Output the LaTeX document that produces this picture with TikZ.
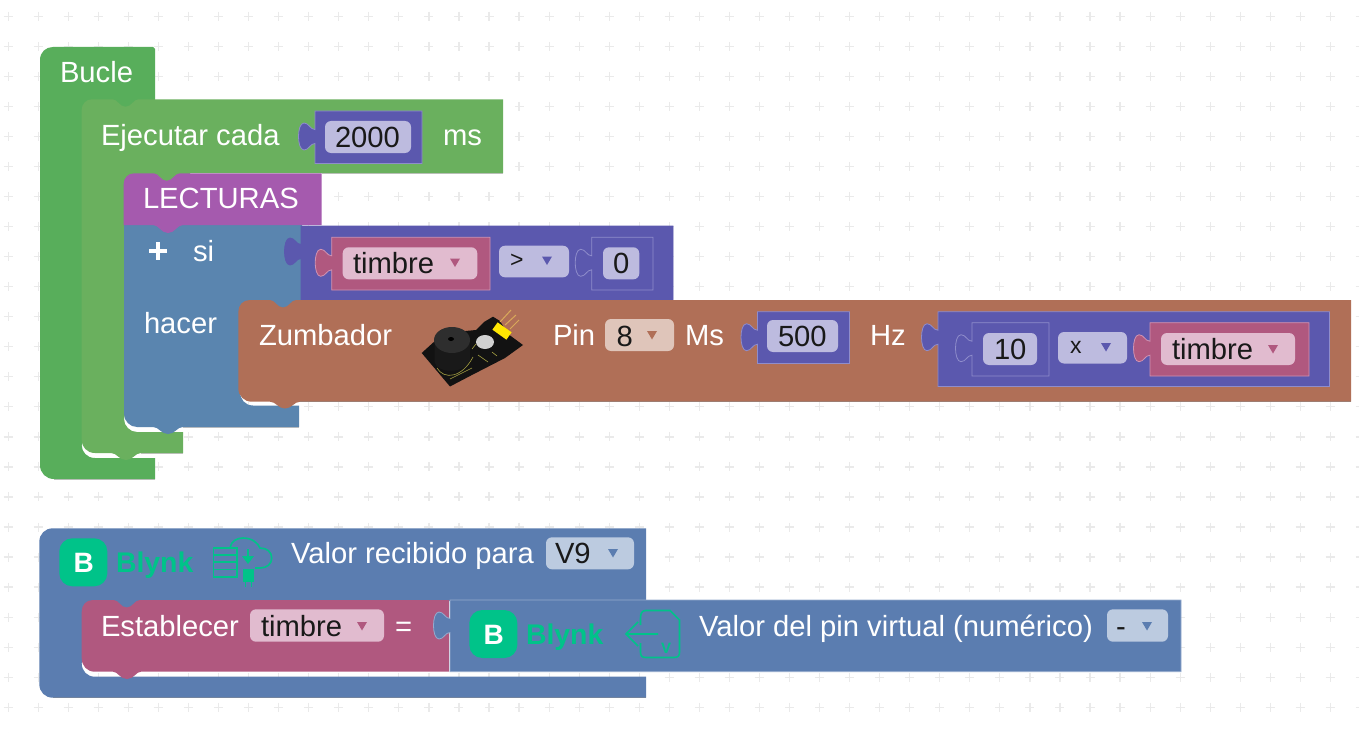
\documentclass[tikz,border=0pt]{standalone}
\usepackage{fontspec}
\setmainfont{Liberation Sans}
\definecolor{cLoop}{HTML}{58AE5B}
\definecolor{cEvery}{HTML}{6AB05E}
\definecolor{cProc}{HTML}{A55AAE}
\definecolor{cIf}{HTML}{5A85AF}
\definecolor{cVal}{HTML}{5B58AE}
\definecolor{cValE}{HTML}{8F8DCB}
\definecolor{cVar}{HTML}{B0587F}
\definecolor{cVarE}{HTML}{D193B2}
\definecolor{cBrown}{HTML}{B06F57}
\definecolor{cBly}{HTML}{5B7DB0}
\definecolor{cBlyE}{HTML}{94ABCE}
\definecolor{fVal}{HTML}{BDBBDF}
\definecolor{fVar}{HTML}{E1BBCF}
\definecolor{fBrown}{HTML}{DFC5BA}
\definecolor{fBly}{HTML}{BCCBE0}
\definecolor{cGreen}{HTML}{00C389}
\definecolor{cGrid}{HTML}{EAEAEA}
\definecolor{cPin}{HTML}{D9A95A}
\newcommand\ntop[2]{-- ({#1-13},#2) .. controls ({#1-8},#2) and ({#1-6},{#2+7.5}) .. (#1,{#2+7.5}) .. controls ({#1+6},{#2+7.5}) and ({#1+8},#2) .. ({#1+13},#2)}
\newcommand\nbot[2]{-- ({#1+15},#2) .. controls ({#1+9},#2) and ({#1+7},{#2+7}) .. (#1,{#2+7}) .. controls ({#1-7},{#2+7}) and ({#1-9},#2) .. ({#1-15},#2)}
\newcommand\ltab[2]{-- (#1,{(#2)+7}) .. controls ({#1-5},{(#2)+7}) and ({#1-6},{(#2)+13.5}) .. ({#1-11},{(#2)+13.5}) .. controls ({#1-15},{(#2)+13.5}) and ({#1-16.5},{(#2)+6}) .. ({#1-16.5},{#2}) .. controls ({#1-16.5},{(#2)-6}) and ({#1-15},{(#2)-13.5}) .. ({#1-11},{(#2)-13.5}) .. controls ({#1-6},{(#2)-13.5}) and ({#1-5},{(#2)-7}) .. (#1,{(#2)-7})}
\newcommand\valblock[6]{\path[fill=#5,draw=#6,line width=.8pt] (#1,#2) -- (#3,#2) -- (#3,#4) -- (#1,#4) \ltab{#1}{#2+25.5} -- cycle;}
\newcommand\field[5]{\fill[#5,rounded corners=6pt] (#1,#2) rectangle (#3,#4);}
\newcommand\tri[3]{\fill[#3] ({#1-5},{#2-4}) -- ({#1+5},{#2-4}) -- (#1,{#2+4.5}) -- cycle;}
\newcommand\blynklogo[2]{%
 \fill[cGreen,rounded corners=13pt] (#1,#2) rectangle ({#1+48},{#2+48});
 \node[dark,text=white,font=\fontsize{28}{30}\selectfont\bfseries,anchor=center] (logo#1) at ({#1+24.5},{#2+25}) {B};}
\tikzset{
 lbl/.style={anchor=base west,inner sep=0pt,outer sep=0pt,text=white,font=\fontsize{29.2}{32}\selectfont},
 dark/.style={inner sep=0pt,outer sep=0pt},
 ftx/.style={lbl,text=black!90},
 sym/.style={lbl,text=black!90,font=\fontsize{23}{25}\selectfont},
 bly/.style={lbl,text=cGreen,font=\fontsize{28.4}{30}\selectfont\bfseries},
 icon/.style={draw=cGreen,line width=1.6pt,fill=none},
 shade/.style={draw=black,draw opacity=.22,line width=1pt},
}
\begin{document}
\begin{tikzpicture}[x=1pt,y=-1pt]
\useasboundingbox (0,0) rectangle (1359,733);
\fill[white] (0,0) rectangle (1359,733);
% grid
\foreach \i in {0,...,45}{\foreach \j in {0,...,24}{
 \draw[cGrid,line width=1.2pt] ({8.2+30.05*\i-4.5},{16.5+30.03*\j}) -- ({8.2+30.05*\i+4.5},{16.5+30.03*\j}) ({8.2+30.05*\i},{16.5+30.03*\j-4.5}) -- ({8.2+30.05*\i},{16.5+30.03*\j+4.5});
}}
% Bucle
\fill[cLoop] (40,60) .. controls (40,52) and (46,47) .. (53,47) -- (153,47) -- (155,49) -- (155,108) -- (84,108) -- (84,440) -- (81.7,445) .. controls (81.7,452) and (87,458) .. (95,458) -- (155,458) -- (155,479) -- (54,479) .. controls (46,479) and (40,473) .. (40,465) -- cycle;
\draw[shade] (54,479) -- (155,479);
% Ejecutar
\fill[cEvery] (81.7,110) .. controls (81.7,104) and (86,99.3) .. (92,99.3) \ntop{125.5}{99.3} -- (503,99.3) -- (503,173) -- (190,173) -- (190,183) -- (126,183) -- (126,410) -- (124,419) .. controls (124,426) and (130,432) .. (137,432) -- (183,432) -- (183,453) \nbot{126}{453} -- (95,453) .. controls (87,453) and (81.7,447) .. (81.7,440) -- cycle;
\draw[shade] (141,453) -- (183,453);
\draw[shade] (322,173) -- (503,173);
% si / hacer
\fill[cIf] (124,225) -- (302,225) -- (302,309) -- (240,309) -- (240,392) .. controls (240,399) and (245,405.5) .. (253,405.5) -- (299,405.5) -- (299,427) \nbot{168}{427} -- (137,427) .. controls (130,427) and (124,421) .. (124,414) -- cycle;
\draw[shade] (183,427) -- (299,427);
% Lecturas
\fill[cProc] (123.7,184) .. controls (123.7,178) and (128,173.3) .. (134,173.3) \ntop{166.7}{173.3} -- (321.7,173.3) -- (321.7,225) -- (183,225) .. controls (177,225) and (175,233) .. (168,233) .. controls (161,233) and (159,225) .. (153,225) -- (123.7,225) -- cycle;
% condition
\valblock{301}{226}{673}{299.5}{cVal}{cVal}
\valblock{331.7}{237.3}{490}{290}{cVar}{cVarE}
\field{342.7}{247.3}{477.3}{279.3}{fVar}
\field{499}{245.7}{569}{277.3}{fVal}
\valblock{591.7}{237.3}{653}{290}{cVal}{cValE}
\field{603}{247.3}{639.3}{279.3}{fVal}
% Zumbador
\fill[cBrown] (238.3,312) .. controls (238.3,305) and (243,300) .. (250,300) \ntop{283}{300} -- (1351,300) -- (1351,401.7) -- (300,401.7) .. controls (294,401.7) and (292,408.5) .. (285,408.5) .. controls (278,408.5) and (276,401.7) .. (270,401.7) -- (252,401.7) .. controls (244,401.7) and (238.3,396) .. (238.3,388) -- cycle;
\draw[shade] (300,401.7) -- (1351,401.7);
\field{605}{319}{674}{351}{fBrown}
\valblock{757.5}{311.7}{849.5}{363.5}{cVal}{cValE}
\field{767}{320}{838}{352}{fVal}
\valblock{938}{311.7}{1329.5}{386.5}{cVal}{cValE}
\valblock{972}{322.7}{1049}{376}{cVal}{cValE}
\field{983}{333}{1037}{365}{fVal}
\field{1058}{332}{1127}{363.5}{fVal}
\valblock{1150}{322.7}{1309}{376}{cVar}{cVarE}
\field{1161}{333}{1295}{365}{fVar}
% 2000
\valblock{315}{111}{422}{163.5}{cVal}{cValE}
\field{325}{121}{411}{153}{fVal}
% buzzer image
\fill[black!93] (421.7,353) -- (436,340) -- (455,332) -- (476,330) -- (484,322) -- (493,316.7) -- (500,321) -- (508,334) -- (523,345) -- (505,358) -- (470,376) -- (450,386.5) -- cycle;
\fill[black!90] (434.5,341) -- (434.5,362) .. controls (437,374) and (466,374) .. (470,360) -- (470,341) -- cycle;
\fill[black!82] (452,340) ellipse[x radius=18,y radius=13];
\fill[black] (451,339) ellipse[x radius=3,y radius=2];
\fill[black!18] (485,342) ellipse[x radius=9,y radius=7];
\draw[yellow!60!black,line width=.6pt] (437,368) .. controls (444,380) and (462,378) .. (473,357);
\draw[yellow!60!black,line width=.6pt] (450,379) -- (472,368) (472,349) -- (476,344) (478,355) -- (488,362) (492,352) -- (497,356);
\draw[cPin,line width=1pt] (500,322) -- (511,310) (505,325) -- (516,315) (510,329) -- (519,320);
\draw[yellow!90!orange,line width=9pt] (495,326) -- (509,336);
% Blynk event
\fill[cBly] (39.3,542) .. controls (39.3,534) and (45,528.3) .. (53,528.3) -- (646,528.3) -- (646,601) -- (150,601) -- (150,608.5) -- (84,608.5) -- (84,655) -- (81.7,663) .. controls (81.7,671) and (87,676.7) .. (95,676.7) -- (646,676.7) -- (646,697.7) -- (53,697.7) .. controls (45,697.7) and (39.3,692) .. (39.3,684) -- cycle;
\draw[shade] (53,697.7) -- (646,697.7);
% Establecer
\fill[cVar] (81.7,612) .. controls (81.7,605) and (86,600) .. (93,600) \ntop{126.7}{600} -- (449,600) -- (449,671.7) -- (141,671.7) .. controls (136,671.7) and (134,679) .. (127,679) .. controls (120,679) and (118,671.7) .. (113,671.7) -- (95,671.7) .. controls (87,671.7) and (81.7,666) .. (81.7,658) -- cycle;
\field{250}{609.3}{384}{641.7}{fVar}
\valblock{450}{600}{1181}{671.7}{cBly}{cBlyE}
\field{546}{537.3}{634}{569.3}{fBly}
\field{1107}{609.3}{1168}{641.7}{fBly}
% plus
\draw[white,line width=4pt] (149,251) -- (167,251) (158,242) -- (158,260);
% texts
\node[lbl] (tBucle) at (60,83) {Bucle};
\node[lbl] (tEjec) at (101,145) {Ejecutar cada};
\node[ftx] (t2000) at (335,147) {2000};
\node[lbl] (tMs) at (443,145) {ms};
\node[lbl] (tLect) at (143,208.5) {LECTURAS};
\node[lbl] (tSi) at (193,261) {si};
\node[lbl] (tHacer) at (144,333) {hacer};
\node[ftx] (tTimb1) at (353,273) {timbre};
\tri{455}{262.5}{cVar}
\node[sym] (tGt) at (510,267.5) {>};
\tri{547}{260.5}{cVal}
\node[ftx] (tZero) at (613,273) {0};
\node[lbl] (tZumb) at (259,345) {Zumbador};
\node[lbl] (tPin) at (553,345) {Pin};
\node[ftx] (tEight) at (616.5,346) {8};
\tri{652}{335}{cBrown}
\node[lbl] (tMs2) at (685,345) {Ms};
\node[ftx] (t500) at (778,346) {500};
\node[lbl] (tHz) at (870,345) {Hz};
\node[ftx] (tTen) at (994,359) {10};
\node[sym] (tX) at (1070,353) {x};
\tri{1106}{347}{cVal}
\node[ftx] (tTimb2) at (1172,359) {timbre};
\tri{1273}{349}{cVar}
% Blynk 1
\blynklogo{59.3}{538.3}
\node[bly] (tBly1) at (116,572.5) {Blynk};
\draw[icon] (213.5,548) rectangle (237,577) (213.5,555) -- (237,555) (213.5,562) -- (237,562) (213.5,569.5) -- (237,569.5);
\draw[icon] (230,548) .. controls (231,541) and (237,538) .. (243,538) .. controls (252,538) and (258,543) .. (260,548) .. controls (267,548) and (271.7,552) .. (271.7,558) .. controls (271.7,564) and (267,568) .. (260,568) -- (255,568);
\draw[cGreen,line width=1.6pt] (248,549) -- (248,558);
\fill[cGreen] (242,556) -- (254,556) -- (248,564) -- cycle;
\fill[cGreen] (243,569) rectangle (254,582);
\draw[cGreen,line width=1.4pt] (245.5,582) -- (245.5,587) (251.5,582) -- (251.5,587);
\node[lbl] (tValor) at (291,563) {Valor recibido para};
\node[ftx] (tV) at (555,563) {V9};
\tri{613}{553}{cBly}
% Establecer texts
\node[lbl] (tEst) at (101,636) {Establecer};
\node[ftx] (tTimb3) at (261,636) {timbre};
\tri{362}{626}{cVar}
\node[lbl] (tEq) at (395,636) {=};
% Blynk 2
\blynklogo{469.3}{610}
\node[bly] (tBly2) at (526,644.5) {Blynk};
\draw[icon] (640.5,625) -- (640.5,618) .. controls (640.5,613) and (642,610.5) .. (646,610.5) -- (670,610.5) -- (679.5,620) -- (679.5,652) .. controls (679.5,656) and (678,657.5) .. (674,657.5) -- (646,657.5) .. controls (642,657.5) and (640.5,656) .. (640.5,652) -- (640.5,643);
\draw[icon] (658,634) -- (626,634) (638,622) -- (626,634) -- (638,646);
\node[bly,font=\fontsize{15}{16}\selectfont\bfseries] (tVsm) at (661,653) {V};
\node[lbl] (tDel) at (699,636) {Valor del pin virtual (numérico)};
\node[ftx] (tDash) at (1116,636) {-};
\tri{1147}{626}{cBly}
\end{tikzpicture}
\end{document}
